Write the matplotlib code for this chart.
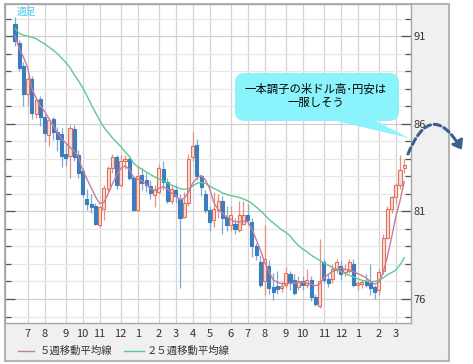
import numpy as np
import matplotlib.pyplot as plt
from matplotlib.patches import Rectangle, FancyBboxPatch, Polygon, FancyArrowPatch
from matplotlib.lines import Line2D
from matplotlib.ticker import FixedLocator, MultipleLocator

plt.rcParams['font.family'] = ['Noto Sans CJK JP', 'DejaVu Sans']

# ===== 週足データ（チャートから読み取り） =====
opens = [91.7, 90.6, 89.3, 87.7, 88.55, 86.55, 87.4, 86.4, 85.35, 86.25,
         85.55, 85.4, 84.3, 84.15, 85.7, 84.2, 83.3, 81.7, 81.4, 81.3,
         80.2, 81.15, 82.3, 83.5, 84.1, 82.5, 83.9, 84.0, 82.9, 81.1,
         83.1, 82.8, 82.45, 81.95, 82.1, 83.4, 82.7, 81.6, 82.2, 81.7,
         80.7, 81.5, 84.1, 84.8, 83.0, 82.0, 81.1, 80.5, 81.1, 81.6,
         80.7, 80.2, 80.3, 79.95, 80.3, 80.8, 80.4, 79.0, 78.1, 77.0,
         77.9, 76.7, 76.75, 76.6, 76.77, 77.4, 77.1, 76.7, 77.0, 76.8,
         77.06, 76.1, 75.6, 78.1, 77.15, 77.16, 77.63, 77.9, 77.55, 77.6,
         78.0, 76.8, 76.85, 77.0, 76.9, 76.7, 76.5, 77.6, 79.5, 81.15,
         81.8, 82.5, 83.45]
highs = [92.1, 90.8, 89.5, 88.65, 88.7, 87.5, 87.6, 86.6, 86.3, 86.4,
         85.8, 85.75, 84.9, 85.95, 85.9, 84.5, 83.5, 82.3, 82.0, 81.5,
         81.3, 82.5, 83.6, 84.3, 84.2, 84.2, 84.2, 84.1, 83.0, 83.6,
         83.5, 83.2, 82.8, 82.5, 83.7, 83.9, 82.9, 82.5, 82.5, 82.0,
         82.1, 84.3, 85.5, 85.1, 83.1, 82.2, 81.3, 82.1, 82.0, 81.9,
         81.3, 81.3, 80.6, 81.6, 81.6, 81.4, 80.6, 79.2, 78.5, 80.2,
         78.2, 77.5, 77.6, 77.0, 77.85, 77.6, 77.4, 77.3, 77.3, 77.7,
         77.3, 76.3, 79.45, 78.3, 77.4, 78.0, 78.3, 78.2, 78.0, 78.3,
         78.3, 77.0, 77.1, 77.4, 78.0, 76.8, 77.7, 79.7, 81.3, 81.9,
         82.6, 84.2, 84.0]
lows = [90.45, 89.0, 87.0, 87.0, 86.25, 86.3, 85.85, 84.95, 84.7, 85.05,
        84.45, 83.55, 83.6, 82.9, 83.9, 82.9, 81.8, 81.05, 80.9, 80.2,
        80.1, 80.5, 82.1, 83.2, 82.3, 82.4, 83.4, 82.8, 81.0, 81.0,
        82.2, 82.1, 81.7, 81.25, 82.0, 82.2, 81.5, 81.4, 81.5, 76.6,
        80.6, 81.3, 83.9, 82.8, 81.9, 80.9, 79.9, 80.1, 80.6, 79.7,
        79.9, 79.9, 79.7, 79.8, 80.2, 80.2, 78.4, 78.2, 76.7, 76.2,
        76.3, 75.95, 76.3, 76.4, 76.6, 76.5, 76.2, 76.5, 76.5, 76.6,
        75.9, 75.6, 75.5, 76.9, 76.7, 76.9, 77.5, 77.06, 77.3, 77.5,
        76.7, 76.5, 76.6, 76.7, 76.2, 76.0, 76.2, 77.4, 79.4, 80.9,
        81.4, 82.3, 83.2]
closes = [90.7, 89.2, 87.7, 88.55, 86.6, 87.35, 86.4, 85.45, 86.2, 85.55,
          85.15, 84.15, 84.05, 85.75, 84.1, 83.2, 82.0, 81.4, 81.25, 80.3,
          81.25, 82.35, 83.45, 84.1, 82.5, 83.9, 84.0, 82.9, 81.1, 83.0,
          82.6, 82.5, 82.05, 82.2, 83.45, 82.7, 81.6, 82.3, 81.9, 80.6,
          81.5, 84.0, 84.75, 83.0, 82.4, 81.1, 80.4, 81.15, 81.6, 80.6,
          80.2, 80.8, 80.0, 80.8, 80.8, 80.5, 79.0, 78.5, 76.8, 78.3,
          76.6, 76.4, 76.55, 76.75, 77.5, 76.9, 76.35, 77.0, 76.8, 77.1,
          76.1, 75.7, 77.0, 77.1, 76.9, 77.73, 78.1, 77.45, 77.73, 78.1,
          76.8, 76.9, 76.95, 76.8, 76.6, 76.4, 77.55, 79.5, 81.15, 81.8,
          82.5, 83.35, 83.65]

# 5週・25週移動平均（チャートから読み取り）
ma5 = [91.0, 90.3, 89.8, 89.2, 88.0, 87.45, 87.0, 86.7, 86.3, 85.9,
       85.5, 85.15, 84.9, 84.65, 84.45, 84.1, 83.35, 82.85, 82.35, 81.85,
       81.45, 81.5, 82.0, 82.55, 83.05, 83.45, 83.6, 83.4, 82.95, 82.85,
       82.75, 82.55, 82.3, 82.2, 82.3, 82.4, 82.3, 82.05, 81.9, 81.65,
       81.75, 82.1, 82.6, 82.9, 83.05, 82.8, 82.3, 81.5, 81.1, 80.9,
       80.7, 80.55, 80.4, 80.4, 80.45, 80.4, 80.0, 79.4, 78.8, 78.1,
       77.6, 77.1, 76.95, 76.87, 76.87, 76.9, 76.9, 76.95, 76.95, 76.9,
       76.85, 76.75, 76.85, 77.2, 77.4, 77.55, 77.7, 77.75, 77.7, 77.65,
       77.55, 77.45, 77.35, 77.2, 77.0, 76.85, 76.95, 77.5, 78.4, 79.5,
       80.7, 81.6, 82.7]
ma25 = [91.45, 91.15, 91.05, 91.0, 90.93, 90.85, 90.7, 90.55, 90.38, 90.2,
        90.0, 89.75, 89.5, 89.2, 88.8, 88.45, 88.05, 87.6, 87.1, 86.65,
        86.2, 85.8, 85.5, 85.2, 84.95, 84.7, 84.4, 84.15, 83.75, 83.55,
        83.4, 83.25, 83.1, 82.97, 82.85, 82.75, 82.6, 82.5, 82.4, 82.3,
        82.25, 82.3, 82.45, 82.6, 82.65, 82.6, 82.45, 82.3, 82.2, 82.05,
        81.97, 81.9, 81.85, 81.8, 81.7, 81.6, 81.45, 81.25, 81.05, 80.8,
        80.55, 80.35, 80.15, 79.95, 79.8, 79.6, 79.3, 79.05, 78.85, 78.7,
        78.5, 78.35, 78.2, 78.05, 77.93, 77.8, 77.68, 77.58, 77.45, 77.35,
        77.25, 77.15, 77.07, 77.02, 77.0, 77.0, 77.08, 77.2, 77.38, 77.5,
        77.65, 77.95, 78.35]

# 月の区切り（週の番号）と表示
month_idx = [3, 7, 12, 16, 20, 25, 29, 34, 38, 42, 46, 51, 55, 59, 64, 68, 73, 77, 81, 86, 90]
month_labels = ['7', '8', '9', '10', '11', '12', '1', '2', '3', '4', '5', '6',
                '7', '8', '9', '10', '11', '12', '1', '2', '3']
price_ticks = [76, 81, 86, 91]

W, H = 473, 364
fig = plt.figure(figsize=(W / 100, H / 100), dpi=100)
fig.patch.set_facecolor('white')


def inch(x, y):
    # 画像のピクセル座標 -> インチ（下原点）
    return x / 100, (H - y) / 100


# 外枠（グレーのパネル）
fig.add_artist(Rectangle(inch(5, 361), 4.44, 3.57, transform=fig.dpi_scale_trans,
                         facecolor='#f0f0f0', edgecolor='#b4b4b4', lw=1.5, zorder=-1))

ax = fig.add_axes([5 / W, 1 - 323 / H, 406 / W, 319 / H])
ax.set_facecolor('white')
x = np.arange(len(closes))
o = np.array(opens); c = np.array(closes); hi = np.array(highs); lo = np.array(lows)
up = c >= o

# ヒゲ
ax.vlines(x[up], lo[up], hi[up], color='#e8907e', lw=0.9, zorder=3)
ax.vlines(x[~up], lo[~up], hi[~up], color='#7fa9d6', lw=0.9, zorder=3)
# 実体
body_lo = np.minimum(o, c)
body_h = np.maximum(np.abs(c - o), 0.06)
ax.bar(x[up], body_h[up], bottom=body_lo[up], width=0.72, facecolor='#fbdcd3',
       edgecolor='#e0725d', lw=0.8, zorder=4)
ax.bar(x[~up], body_h[~up], bottom=body_lo[~up], width=0.72, facecolor='#3b7dbf',
       edgecolor='#3b7dbf', lw=0.8, zorder=4)

ax.plot(x, ma25, color='#5cc993', lw=1.0, zorder=5)
ax.plot(x, ma5, color='#c77d9c', lw=1.0, zorder=5)

ax.set_xlim(-2.36, 93.6)
ax.set_ylim(74.63, 92.83)

ax.yaxis.set_major_locator(FixedLocator(price_ticks))
ax.yaxis.set_minor_locator(MultipleLocator(1))
ax.set_xticks(month_idx)
ax.set_xticklabels(month_labels)

ax.grid(which='major', axis='y', color='#d0d0d0', lw=0.9, zorder=0)
ax.grid(which='minor', axis='y', color='#e8e8e8', lw=0.9, zorder=0)
ax.grid(which='major', axis='x', color='#d4d4d4', lw=0.9, zorder=0)
ax.set_axisbelow(True)

ax.tick_params(axis='y', which='both', direction='in', left=True, right=True,
               labelleft=False, labelright=True, colors='#555555', labelcolor='#333333',
               labelsize=8, pad=2)
ax.tick_params(axis='y', which='major', length=7, width=0.9)
ax.tick_params(axis='y', which='minor', length=4, width=0.9)
ax.tick_params(axis='x', length=0, labelsize=8, labelcolor='#333333', pad=4)
for s in ax.spines.values():
    s.set_color('#a6a6a6')
    s.set_linewidth(1.0)

# 左上の「週足」
fig.text(17 / W, 1 - 12 / H, '週足', color='#3cc8f0', fontsize=7, va='center', ha='left')

# 凡例
for x0, x1, col, label, tx in [(18, 34, '#c77d9c', '５週移動平均線', 40),
                               (124, 144, '#5cc993', '２５週移動平均線', 147)]:
    fig.add_artist(Line2D([x0 / 100, x1 / 100], [(H - 351) / 100] * 2,
                          transform=fig.dpi_scale_trans, color=col, lw=1.0))
    fig.text(tx / W, 1 - 351 / H, label, fontsize=7.5, color='#333333',
             va='center', ha='left')

# 吹き出し
bx0, by0, bx1, by1 = 235, 73, 399, 121
fig.add_artist(FancyBboxPatch(inch(bx0, by1), (bx1 - bx0) / 100, (by1 - by0) / 100,
                              boxstyle='round,pad=0,rounding_size=0.1',
                              transform=fig.dpi_scale_trans, facecolor='#8af3fb',
                              edgecolor='none', zorder=6))
fig.add_artist(Polygon([inch(328, 119), inch(372, 119), inch(409, 138)], closed=True,
                       transform=fig.dpi_scale_trans, facecolor='#8af3fb',
                       edgecolor='none', zorder=6))
fig.text(316 / W, 1 - 89 / H, '一本調子の米ドル高･円安は', fontsize=8.2, color='black',
         ha='center', va='center', zorder=7)
fig.text(316 / W, 1 - 103 / H, '一服しそう', fontsize=8.2, color='black',
         ha='center', va='center', zorder=7)

# 破線の曲がった矢印
fig.add_artist(FancyArrowPatch(inch(408, 154), inch(462, 150),
                               connectionstyle='arc3,rad=-1.0',
                               arrowstyle='-|>,head_length=5,head_width=3.5',
                               transform=fig.dpi_scale_trans, color='#3d5f8e',
                               lw=2.2, linestyle=(0, (2.2, 1.2)), zorder=7,
                               shrinkA=0, shrinkB=0))

fig.savefig('out.png', dpi=100, facecolor='white')
